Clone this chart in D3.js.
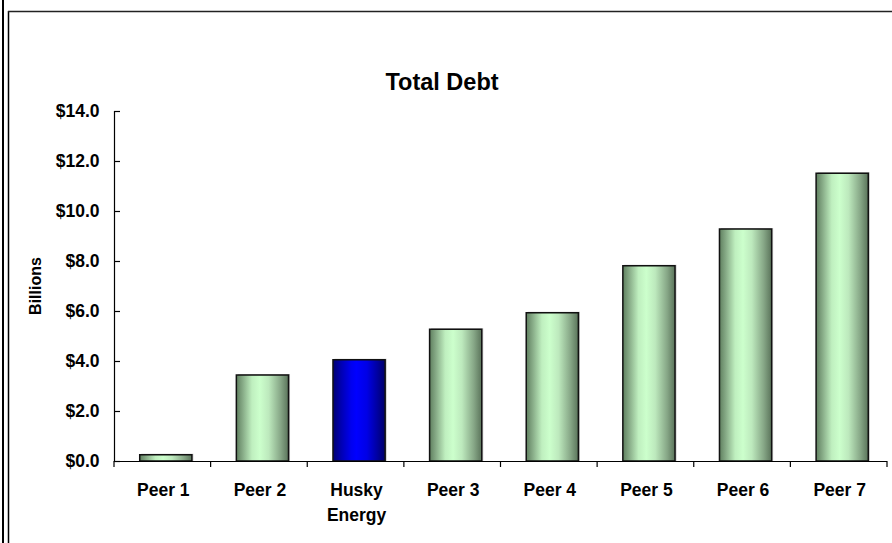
<!DOCTYPE html>
<html>
<head>
<meta charset="utf-8">
<script src="https://cdn.jsdelivr.net/npm/d3@7"></script>
<style>
  html, body { margin: 0; padding: 0; background: #fff; }
  svg { display: block; }
  text { font-family: Arial, "Liberation Sans", sans-serif; font-weight: bold; fill: #000; }
</style>
</head>
<body>
<script>
// ---- data ----
const categories = ["Peer 1", "Peer 2", "Husky Energy", "Peer 3", "Peer 4", "Peer 5", "Peer 6", "Peer 7"];
const debtValues = [0.25, 3.44, 4.05, 5.27, 5.93, 7.81, 9.28, 11.51];
const highlighted = ["Husky Energy"];
const yTicks = [0, 2, 4, 6, 8, 10, 12, 14];
const titleText = "Total Debt";
const yAxisTitle = "Billions";

// ---- layout ----
const W = 892, H = 543;
const plot = { left: 114, right: 887, top: 111, bottom: 461 };

const svg = d3.select("body").append("svg").attr("width", W).attr("height", H);
svg.append("rect").attr("width", W).attr("height", H).attr("fill", "#fff");

// frame
svg.append("line").attr("x1", 3).attr("x2", 3).attr("y1", 0).attr("y2", H)
  .attr("stroke", "#000").attr("stroke-width", 2);
svg.append("line").attr("x1", 8.5).attr("x2", 8.5).attr("y1", 11).attr("y2", H)
  .attr("stroke", "#000").attr("stroke-width", 1.5);
svg.append("line").attr("x1", 8).attr("x2", W).attr("y1", 11.5).attr("y2", 11.5)
  .attr("stroke", "#222").attr("stroke-width", 1.5);

// gradients
const defs = svg.append("defs");
function grad(id, stops) {
  const g = defs.append("linearGradient").attr("id", id)
    .attr("x1", "0%").attr("x2", "100%").attr("y1", "0%").attr("y2", "0%");
  stops.forEach(s => g.append("stop").attr("offset", s[0]).attr("stop-color", s[1]));
}
grad("gGreen", [["0%", "#5f7f5f"], ["12%", "#86aa86"], ["30%", "#bfefbf"], ["45%", "#ccffcc"], ["62%", "#bde9bd"], ["85%", "#86a686"], ["100%", "#5a735a"]]);
grad("gBlue", [["0%", "#000070"], ["15%", "#0000b0"], ["35%", "#0000f0"], ["45%", "#0000ff"], ["65%", "#0000e6"], ["85%", "#0000a0"], ["100%", "#000068"]]);

// scales
const x = d3.scaleBand().domain(categories).range([plot.left, plot.right])
  .paddingInner(0.46).paddingOuter(0.23);
const y = d3.scaleLinear().domain([0, 14]).range([plot.bottom, plot.top]);
const barShift = 3.5;

// title
svg.append("text").attr("x", 442).attr("y", 90).attr("text-anchor", "middle")
  .style("font-size", "23.5px").text(titleText);

// y axis title
svg.append("text").attr("transform", "translate(40.5,286) rotate(-90)")
  .attr("text-anchor", "middle").style("font-size", "16px").text(yAxisTitle);

// bars (shadow + bar)
const bars = svg.append("g");
categories.forEach((c, i) => {
  const v = debtValues[i];
  const bx = x(c) + barShift, bw = x.bandwidth();
  bars.append("rect").attr("x", bx + 1.5).attr("y", y(v) - 1)
    .attr("width", bw).attr("height", y(0) - y(v) + 1)
    .attr("fill", "#c8c8c8");
  bars.append("rect").attr("x", bx).attr("y", y(v))
    .attr("width", bw).attr("height", y(0) - y(v))
    .attr("fill", highlighted.includes(c) ? "url(#gBlue)" : "url(#gGreen)")
    .attr("stroke", "#111").attr("stroke-width", 1.5);
});

// y axis (ticks inside)
const yAxis = d3.axisRight(y).tickValues(yTicks).tickSize(6).tickFormat("");
const yg = svg.append("g").attr("transform", `translate(${plot.left},0)`).call(yAxis);
yg.select(".domain").attr("stroke", "#000").attr("stroke-width", 1.2);
yg.selectAll(".tick line").attr("stroke", "#000").attr("stroke-width", 1.2);
svg.append("g").selectAll("text").data(yTicks).join("text")
  .attr("x", 99.5).attr("y", d => y(d) + 6).attr("text-anchor", "end")
  .style("font-size", "17.5px").text(d => "$" + d3.format(".1f")(d));

// x axis
svg.append("line").attr("x1", plot.left).attr("x2", plot.right)
  .attr("y1", plot.bottom + 0.5).attr("y2", plot.bottom + 0.5)
  .attr("stroke", "#000").attr("stroke-width", 1.2);
const boundaries = [plot.left].concat(categories.map(c => x(c) + x.bandwidth() + x.step() * x.paddingInner() / 2));
svg.append("g").selectAll("line").data(boundaries).join("line")
  .attr("x1", d => d).attr("x2", d => d)
  .attr("y1", plot.bottom).attr("y2", plot.bottom + 6)
  .attr("stroke", "#000").attr("stroke-width", 1.2);

// category labels
const labels = svg.append("g");
categories.forEach(c => {
  const cx = x(c) + x.bandwidth() / 2 + 1;
  const words = c === "Husky Energy" ? ["Husky", "Energy"] : [c];
  const t = labels.append("text").attr("text-anchor", "middle").style("font-size", "17.5px");
  words.forEach((w, k) => t.append("tspan").attr("x", cx).attr("y", 496 + k * 25).text(w));
});
</script>
</body>
</html>
